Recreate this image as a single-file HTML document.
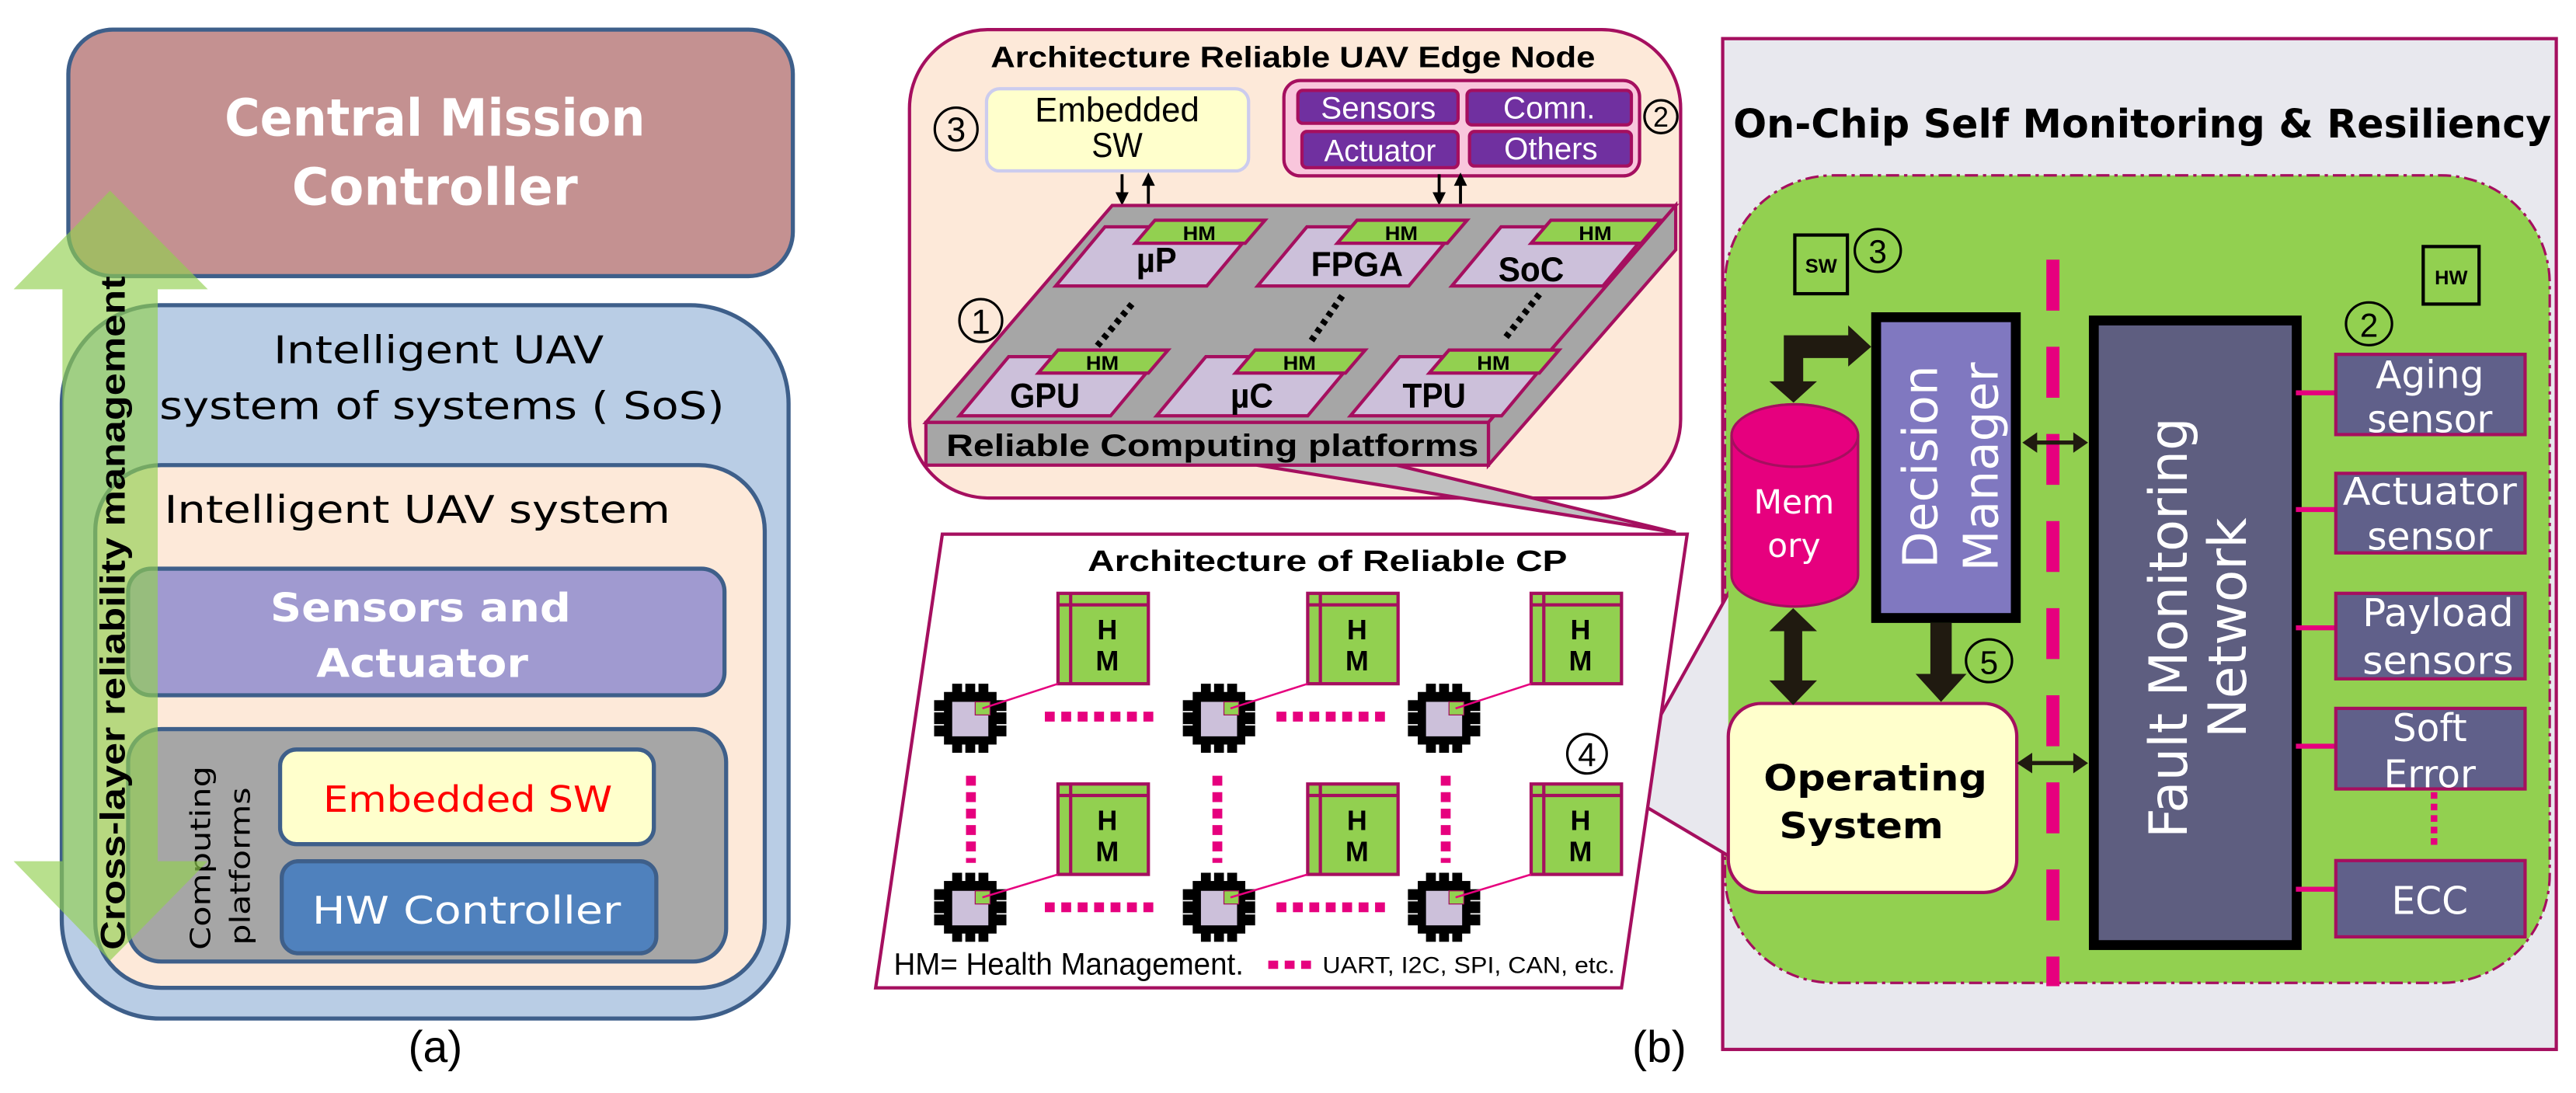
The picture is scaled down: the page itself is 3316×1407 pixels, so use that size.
<!DOCTYPE html>
<html><head><meta charset="utf-8"><style>
html,body{margin:0;padding:0;background:#fff}
svg{display:block}
text{font-family:"Liberation Sans",sans-serif}
.n{font-family:"Liberation Sans Narrow","Liberation Sans",sans-serif}
.v{font-family:"DejaVu Sans","Liberation Sans",sans-serif}
</style></head><body>
<svg width="3316" height="1407" viewBox="0 0 1568 665" preserveAspectRatio="none" xmlns="http://www.w3.org/2000/svg">
<rect width="1568" height="665" fill="#fff"/>

<!-- ===== Panel (a) ===== -->
<rect x="41.6" y="18" width="441" height="150" rx="27" fill="#c49191" stroke="#3e5f8a" stroke-width="2.5"/>
<text class="v" x="264.7" y="82.5" font-size="31" font-weight="bold" fill="#fff" text-anchor="middle" textLength="256" lengthAdjust="spacingAndGlyphs">Central Mission</text>
<text class="v" x="264.7" y="124.6" font-size="31" font-weight="bold" fill="#fff" text-anchor="middle" textLength="174" lengthAdjust="spacingAndGlyphs">Controller</text>

<rect x="37.6" y="185.7" width="442.4" height="434" rx="60" fill="#b9cde5" stroke="#3e5f8a" stroke-width="2.5"/>
<text class="v" x="267" y="221" font-size="23" fill="#000" text-anchor="middle" textLength="201" lengthAdjust="spacingAndGlyphs">Intelligent UAV</text>
<text class="v" x="269" y="255" font-size="23" fill="#000" text-anchor="middle" textLength="344" lengthAdjust="spacingAndGlyphs">system of systems ( SoS)</text>

<rect x="58" y="283" width="407.5" height="318" rx="40" fill="#fde9d9" stroke="#3e5f8a" stroke-width="2.5"/>
<text class="v" x="100" y="318" font-size="23" fill="#000" textLength="308" lengthAdjust="spacingAndGlyphs">Intelligent UAV system</text>

<rect x="78" y="346" width="363" height="77" rx="14" fill="#a09ad0" stroke="#3e5f8a" stroke-width="2.5"/>
<text class="v" x="256" y="378" font-size="24" font-weight="bold" fill="#fff" text-anchor="middle" textLength="183" lengthAdjust="spacingAndGlyphs">Sensors and</text>
<text class="v" x="257" y="412" font-size="24" font-weight="bold" fill="#fff" text-anchor="middle" textLength="129" lengthAdjust="spacingAndGlyphs">Actuator</text>

<rect x="78" y="443.6" width="364" height="141.4" rx="20" fill="#a6a6a6" stroke="#3e5f8a" stroke-width="2.5"/>
<text class="v" transform="translate(128,522) rotate(-90)" font-size="17" fill="#000" text-anchor="middle" textLength="112" lengthAdjust="spacingAndGlyphs">Computing</text>
<text class="v" transform="translate(152,527) rotate(-90)" font-size="17" fill="#000" text-anchor="middle" textLength="96" lengthAdjust="spacingAndGlyphs">platforms</text>

<rect x="170.5" y="456" width="227.5" height="57.6" rx="10" fill="#ffffcc" stroke="#3e5f8a" stroke-width="2.5"/>
<text class="v" x="284.7" y="494" font-size="22" fill="#ff0000" text-anchor="middle" textLength="176" lengthAdjust="spacingAndGlyphs">Embedded SW</text>
<rect x="171.5" y="524" width="228" height="56" rx="10" fill="#4f81bd" stroke="#3e5f8a" stroke-width="2.5"/>
<text class="v" x="284" y="562" font-size="23" fill="#fff" text-anchor="middle" textLength="188" lengthAdjust="spacingAndGlyphs">HW Controller</text>

<!-- green double arrow -->
<polygon points="67,116 126.5,176 96,176 96,524 126.5,524 67,584.5 8.3,524 38,524 38,176 8.3,176" fill="#92d050" fill-opacity="0.65"/>
<text transform="translate(76,373) rotate(-90)" font-size="21" font-weight="bold" fill="#000" text-anchor="middle" textLength="410" lengthAdjust="spacingAndGlyphs">Cross-layer reliability management</text>

<text x="265" y="646" font-size="27" fill="#000" text-anchor="middle">(a)</text>

<!-- ===== Panel (b) top box ===== -->
<rect x="553.6" y="18" width="469.4" height="285" rx="48" fill="#fde9d9" stroke="#a50f5f" stroke-width="2"/>
<text class="n" x="787" y="41" font-size="18" font-weight="bold" fill="#000" text-anchor="middle" textLength="368" lengthAdjust="spacingAndGlyphs">Architecture Reliable UAV Edge Node</text>

<rect x="600.5" y="54" width="159.5" height="50" rx="8" fill="#ffffcc" stroke="#ccccee" stroke-width="2"/>
<text class="n" x="680" y="74" font-size="21" fill="#000" text-anchor="middle" textLength="100" lengthAdjust="spacingAndGlyphs">Embedded</text>
<text class="n" x="680" y="95.5" font-size="21" fill="#000" text-anchor="middle" textLength="31" lengthAdjust="spacingAndGlyphs">SW</text>
<circle cx="582" cy="78.5" r="13" fill="none" stroke="#000" stroke-width="1.5"/>
<text class="n" x="582" y="86" font-size="21" fill="#000" text-anchor="middle">3</text>

<rect x="781.5" y="49" width="216.5" height="58" rx="10" fill="#f9c6dc" stroke="#a50f5f" stroke-width="2"/>
<g fill="#7030a0" stroke="#a50f5f" stroke-width="2">
<rect x="790" y="55" width="97.5" height="20" rx="3"/>
<rect x="893" y="55" width="100" height="21" rx="3"/>
<rect x="792.5" y="80" width="95" height="22" rx="3"/>
<rect x="894.5" y="80" width="98.5" height="21" rx="3"/>
</g>
<g font-size="19" fill="#fff" text-anchor="middle">
<text class="n" x="839" y="72" textLength="70" lengthAdjust="spacingAndGlyphs">Sensors</text>
<text class="n" x="943" y="72" textLength="56" lengthAdjust="spacingAndGlyphs">Comn.</text>
<text class="n" x="840" y="98" textLength="68" lengthAdjust="spacingAndGlyphs">Actuator</text>
<text class="n" x="944" y="97" textLength="57" lengthAdjust="spacingAndGlyphs">Others</text>
</g>
<circle cx="1011" cy="71" r="10" fill="none" stroke="#000" stroke-width="1.5"/>
<text class="n" x="1011" y="77" font-size="17" fill="#000" text-anchor="middle">2</text>

<!-- small arrows -->
<g stroke="#000" stroke-width="1.8" fill="#000">
<line x1="683" y1="106" x2="683" y2="118"/><polygon points="679,117 687,117 683,125" stroke="none"/>
<line x1="699" y1="112" x2="699" y2="124"/><polygon points="695,113 703,113 699,105" stroke="none"/>
<line x1="876" y1="106" x2="876" y2="118"/><polygon points="872,117 880,117 876,125" stroke="none"/>
<line x1="889" y1="112" x2="889" y2="124"/><polygon points="885,113 893,113 889,105" stroke="none"/>
</g>

<!-- callout from platform -->
<polygon points="765,283 850,283 1020,324" fill="#c0c0c0" stroke="#a50f5f" stroke-width="2"/>

<!-- platform -->
<polygon points="677,125 1020,125 906,257 563.6,257" fill="#a6a6a6" stroke="#a50f5f" stroke-width="2"/>
<polygon points="1020,125 1020,152 906,283 906,257" fill="#a6a6a6" stroke="#a50f5f" stroke-width="2"/>
<rect x="563.6" y="257" width="342.4" height="26" fill="#a6a6a6" stroke="#a50f5f" stroke-width="2"/>
<text class="n" x="576" y="277.5" font-size="19" font-weight="bold" fill="#000" textLength="324" lengthAdjust="spacingAndGlyphs">Reliable Computing platforms</text>

<!-- chips on platform -->
<g stroke="#a50f5f" stroke-width="2">
<polygon points="642.6,174 734.6,174 764.6,138 672.6,138" fill="#ccc0da"/>
<polygon points="691,148 758,148 770,134 703,134" fill="#92d050"/>
<polygon points="765.5,174 857.5,174 887.5,138 795.5,138" fill="#ccc0da"/>
<polygon points="814,148 881,148 893,134 826,134" fill="#92d050"/>
<polygon points="883.7,174 975.7,174 1005.7,138 913.7,138" fill="#ccc0da"/>
<polygon points="932,148 999,148 1011,134 944,134" fill="#92d050"/>
<polygon points="584,253 676,253 706,217 614,217" fill="#ccc0da"/>
<polygon points="632,227 699,227 711,213 644,213" fill="#92d050"/>
<polygon points="704,253 796,253 826,217 734,217" fill="#ccc0da"/>
<polygon points="752,227 819,227 831,213 764,213" fill="#92d050"/>
<polygon points="822,253 914,253 944,217 852,217" fill="#ccc0da"/>
<polygon points="870,227 937,227 949,213 882,213" fill="#92d050"/>
</g>
<g font-size="12" font-weight="bold" fill="#000" text-anchor="middle">
<text class="n" x="730" y="146" textLength="20" lengthAdjust="spacingAndGlyphs">HM</text><text class="n" x="853" y="146" textLength="20" lengthAdjust="spacingAndGlyphs">HM</text><text class="n" x="971" y="146" textLength="20" lengthAdjust="spacingAndGlyphs">HM</text>
<text class="n" x="671" y="225" textLength="20" lengthAdjust="spacingAndGlyphs">HM</text><text class="n" x="791" y="225" textLength="20" lengthAdjust="spacingAndGlyphs">HM</text><text class="n" x="909" y="225" textLength="20" lengthAdjust="spacingAndGlyphs">HM</text>
</g>
<g font-size="21" font-weight="bold" fill="#000" text-anchor="middle">
<text class="n" x="704" y="165.5" textLength="24.5" lengthAdjust="spacingAndGlyphs">µP</text><text class="n" x="826" y="168" textLength="56" lengthAdjust="spacingAndGlyphs">FPGA</text><text class="n" x="932" y="171" textLength="40" lengthAdjust="spacingAndGlyphs">SoC</text>
<text class="n" x="636" y="248" textLength="42.6" lengthAdjust="spacingAndGlyphs">GPU</text><text class="n" x="762" y="248" textLength="26" lengthAdjust="spacingAndGlyphs">µC</text><text class="n" x="873" y="248" textLength="38.5" lengthAdjust="spacingAndGlyphs">TPU</text>
</g>
<g stroke="#000" stroke-width="4" stroke-dasharray="3,3">
<line x1="689" y1="185" x2="667.5" y2="211"/>
<line x1="817" y1="180" x2="798" y2="207.6"/>
<line x1="937" y1="179" x2="916" y2="206"/>
</g>
<circle cx="597" cy="195" r="13" fill="none" stroke="#000" stroke-width="1.5"/>
<text class="n" x="597" y="203" font-size="21" fill="#000" text-anchor="middle">1</text>

<!-- ===== Right panel ===== -->
<rect x="1048.6" y="23.5" width="507.4" height="615" fill="#e8e8ee" stroke="#a50f5f" stroke-width="2"/>
<text class="v" x="1055" y="83.6" font-size="24" font-weight="bold" fill="#000" textLength="498" lengthAdjust="spacingAndGlyphs">On-Chip Self Monitoring &amp; Resiliency</text>
<rect x="1050" y="106.7" width="502" height="491.3" rx="66" fill="#92d050" stroke="#a50f5f" stroke-width="1.5" stroke-dasharray="8,3,2,3"/>

<!-- callout to right panel -->
<polygon points="987,478 1056,354 1056,523 987,482" fill="#e8e8ee" stroke="none"/>
<line x1="987" y1="478" x2="1056" y2="354" stroke="#a50f5f" stroke-width="2"/>
<line x1="987" y1="482" x2="1056" y2="523" stroke="#a50f5f" stroke-width="2"/>
<rect x="1052" y="340" width="8" height="200" fill="#92d050"/>

<!-- ===== Lower box ===== -->
<polygon points="573.6,325 1027,325 987,601 533,601" fill="#fff" stroke="#a50f5f" stroke-width="2"/>
<text class="n" x="808" y="347.5" font-size="18" font-weight="bold" fill="#000" text-anchor="middle" textLength="292" lengthAdjust="spacingAndGlyphs">Architecture of Reliable CP</text>

<g stroke="#e6007e" stroke-width="6" stroke-dasharray="6,4" fill="none">
<line x1="636" y1="436" x2="703" y2="436"/>
<line x1="777" y1="436" x2="843" y2="436"/>
<line x1="636" y1="552" x2="703" y2="552"/>
<line x1="777" y1="552" x2="843" y2="552"/>
<line x1="591" y1="472" x2="591" y2="525"/>
<line x1="741" y1="472" x2="741" y2="525"/>
<line x1="880" y1="472" x2="880" y2="525"/>
<line x1="772" y1="587" x2="798" y2="587" stroke-width="5"/>
</g>

<g stroke="#a50f5f" stroke-width="2" fill="#92d050">
<rect x="644" y="361" width="55" height="55"/><rect x="796" y="361" width="55" height="55"/><rect x="932" y="361" width="55" height="55"/>
<rect x="644" y="477" width="55" height="55"/><rect x="796" y="477" width="55" height="55"/><rect x="932" y="477" width="55" height="55"/>
</g>
<g stroke="#a50f5f" stroke-width="2">
<line x1="651.7" y1="361" x2="651.7" y2="416"/><line x1="644" y1="368" x2="699" y2="368"/>
<line x1="803.7" y1="361" x2="803.7" y2="416"/><line x1="796" y1="368" x2="851" y2="368"/>
<line x1="939.7" y1="361" x2="939.7" y2="416"/><line x1="932" y1="368" x2="987" y2="368"/>
<line x1="651.7" y1="477" x2="651.7" y2="532"/><line x1="644" y1="484" x2="699" y2="484"/>
<line x1="803.7" y1="477" x2="803.7" y2="532"/><line x1="796" y1="484" x2="851" y2="484"/>
<line x1="939.7" y1="477" x2="939.7" y2="532"/><line x1="932" y1="484" x2="987" y2="484"/>
</g>
<g font-size="17" font-weight="bold" fill="#000" text-anchor="middle">
<text x="674" y="389">H</text><text x="674" y="408">M</text>
<text x="826" y="389">H</text><text x="826" y="408">M</text>
<text x="962" y="389">H</text><text x="962" y="408">M</text>
<text x="674" y="505">H</text><text x="674" y="524">M</text>
<text x="826" y="505">H</text><text x="826" y="524">M</text>
<text x="962" y="505">H</text><text x="962" y="524">M</text>
</g>

<defs>
<g id="chip">
<rect x="-16" y="-16" width="32" height="32" fill="#000"/>
<rect x="-11" y="-21" width="6" height="6" fill="#000"/><rect x="-3" y="-21" width="6" height="6" fill="#000"/><rect x="5" y="-21" width="6" height="6" fill="#000"/>
<rect x="-11" y="15" width="6" height="6" fill="#000"/><rect x="-3" y="15" width="6" height="6" fill="#000"/><rect x="5" y="15" width="6" height="6" fill="#000"/>
<rect x="-22" y="-11" width="7" height="22" fill="#000"/><rect x="15" y="-11" width="7" height="22" fill="#000"/>
<line x1="-22" y1="-4" x2="-16" y2="-4" stroke="#fff" stroke-width="0.8"/><line x1="-22" y1="4" x2="-16" y2="4" stroke="#fff" stroke-width="0.8"/>
<line x1="16" y1="-4" x2="22" y2="-4" stroke="#fff" stroke-width="0.8"/><line x1="16" y1="4" x2="22" y2="4" stroke="#fff" stroke-width="0.8"/>
<rect x="-11" y="-10" width="22" height="21" fill="#ccc0da"/>
<rect x="3" y="-10" width="9" height="8" fill="#92d050" stroke="#a50f5f" stroke-width="0.6"/>
</g>
</defs>
<use href="#chip" x="590.6" y="437"/><use href="#chip" x="742" y="437"/><use href="#chip" x="879" y="437"/>
<use href="#chip" x="590.6" y="552"/><use href="#chip" x="742" y="552"/><use href="#chip" x="879" y="552"/>
<g stroke="#e6007e" stroke-width="1.2">
<line x1="598" y1="431" x2="644" y2="416"/><line x1="749" y1="431" x2="796" y2="416"/><line x1="886" y1="431" x2="932" y2="416"/>
<line x1="598" y1="546" x2="644" y2="532"/><line x1="749" y1="546" x2="796" y2="532"/><line x1="886" y1="546" x2="932" y2="532"/>
</g>

<text class="n" x="544" y="593" font-size="19" fill="#000" textLength="213" lengthAdjust="spacingAndGlyphs">HM= Health Management.</text>
<text class="n" x="805" y="592" font-size="14" fill="#000" textLength="178" lengthAdjust="spacingAndGlyphs">UART, I2C, SPI, CAN, etc.</text>
<circle cx="966" cy="458.6" r="12" fill="#fff" stroke="#000" stroke-width="1.5"/>
<text class="n" x="966" y="466" font-size="20" fill="#000" text-anchor="middle">4</text>

<text x="1010" y="646" font-size="27" fill="#000" text-anchor="middle">(b)</text>

<!-- right panel content -->
<rect x="1092.5" y="143" width="32" height="35.7" fill="none" stroke="#000" stroke-width="2"/>
<text x="1108.5" y="166" font-size="12" font-weight="bold" fill="#000" text-anchor="middle">SW</text>
<ellipse cx="1143" cy="152.4" rx="14" ry="13" fill="none" stroke="#000" stroke-width="1.5"/>
<text class="n" x="1143" y="160" font-size="20" fill="#000" text-anchor="middle">3</text>
<rect x="1475" y="150" width="34" height="35" fill="none" stroke="#000" stroke-width="2"/>
<text x="1492" y="173" font-size="12" font-weight="bold" fill="#000" text-anchor="middle">HW</text>
<ellipse cx="1442" cy="197" rx="14" ry="13" fill="none" stroke="#000" stroke-width="1.5"/>
<text class="n" x="1442" y="205" font-size="20" fill="#000" text-anchor="middle">2</text>

<line x1="1249.6" y1="158" x2="1249.6" y2="600" stroke="#e6007e" stroke-width="8" stroke-dasharray="31,22"/>

<rect x="1142" y="193" width="85" height="183" fill="#8078c0" stroke="#000" stroke-width="6"/>
<text class="v" transform="translate(1179,284) rotate(-90)" font-size="29" fill="#fff" text-anchor="middle">Decision</text>
<text class="v" transform="translate(1216,284) rotate(-90)" font-size="29" fill="#fff" text-anchor="middle">Manager</text>

<rect x="1274.5" y="195" width="123.5" height="380" fill="#5e5e80" stroke="#000" stroke-width="6"/>
<text class="v" transform="translate(1331,382) rotate(-90)" font-size="32" fill="#fff" text-anchor="middle" textLength="256" lengthAdjust="spacingAndGlyphs">Fault Monitoring</text>
<text class="v" transform="translate(1367,382) rotate(-90)" font-size="32" fill="#fff" text-anchor="middle" textLength="134" lengthAdjust="spacingAndGlyphs">Network</text>

<g stroke="#e6007e" stroke-width="3">
<line x1="1397.5" y1="239" x2="1421.8" y2="239"/><line x1="1397.5" y1="310" x2="1421.8" y2="310"/>
<line x1="1397.5" y1="382" x2="1421.8" y2="382"/><line x1="1397.5" y1="454" x2="1421.8" y2="454"/>
<line x1="1397.5" y1="541" x2="1421.8" y2="541"/>
</g>
<line x1="1481.6" y1="482" x2="1481.6" y2="516" stroke="#e6007e" stroke-width="4" stroke-dasharray="4,3"/>
<g fill="#60608a" stroke="#a50f5f" stroke-width="2">
<rect x="1421.8" y="215.6" width="115.2" height="48.8"/>
<rect x="1421.8" y="288" width="115.2" height="48.4"/>
<rect x="1421.8" y="361" width="115.2" height="52"/>
<rect x="1421.8" y="431" width="115.2" height="49"/>
<rect x="1421.8" y="523.6" width="115.2" height="46.4"/>
</g>
<g font-size="23" fill="#fff" text-anchor="middle">
<text class="v" x="1479" y="236">Aging</text><text class="v" x="1479" y="263">sensor</text>
<text class="v" x="1479" y="307" textLength="106" lengthAdjust="spacingAndGlyphs">Actuator</text><text class="v" x="1479" y="334.5">sensor</text>
<text class="v" x="1484" y="381" textLength="92" lengthAdjust="spacingAndGlyphs">Payload</text><text class="v" x="1484" y="410" textLength="92" lengthAdjust="spacingAndGlyphs">sensors</text>
<text class="v" x="1479" y="451">Soft</text><text class="v" x="1479" y="479">Error</text>
<text class="v" x="1479" y="556">ECC</text>
</g>

<path d="M1054,265 L1054,350 A38.5,19 0 0 0 1131,350 L1131,265 A38.5,19 0 0 0 1054,265 Z" fill="#e6007e" stroke="#a50f5f" stroke-width="1.5"/>
<ellipse cx="1092.5" cy="265" rx="38.5" ry="19" fill="#e6007e" stroke="#a50f5f" stroke-width="1.5"/>
<text class="v" x="1092" y="312.5" font-size="20" fill="#fff" text-anchor="middle">Mem</text>
<text class="v" x="1092" y="339" font-size="20" fill="#fff" text-anchor="middle">ory</text>

<rect x="1052" y="428" width="175.6" height="115" rx="20" fill="#ffffcc" stroke="#a50f5f" stroke-width="2"/>
<text class="v" x="1141.5" y="481" font-size="22" font-weight="bold" fill="#000" text-anchor="middle" textLength="136" lengthAdjust="spacingAndGlyphs">Operating</text>
<text class="v" x="1133" y="510" font-size="22" font-weight="bold" fill="#000" text-anchor="middle" textLength="100" lengthAdjust="spacingAndGlyphs">System</text>

<g fill="#201a10">
<path d="M1085.8,232 L1085.8,204 L1125,204 L1125,198 L1139,211 L1125,223 L1125,217.8 L1097.6,217.8 L1097.6,232 L1106,232 L1091.7,245 L1077,232 Z"/>
<path d="M1086,384 L1077,384 L1091.5,370 L1106,384 L1097,384 L1097,414 L1106,414 L1091.5,429 L1077,414 L1086,414 Z"/>
<path d="M1175,379 L1188,379 L1188,410 L1197,410 L1181.5,427 L1166,410 L1175,410 Z"/>
<rect x="1237" y="268" width="28" height="2.5"/>
<polygon points="1231,269.3 1240,263 1240,275.5"/><polygon points="1271,269.3 1262,263 1262,275.5"/>
<rect x="1234" y="463" width="31" height="2.5"/>
<polygon points="1227.6,464.3 1237,458 1237,470.5"/><polygon points="1271,464.3 1262,458 1262,470.5"/>
</g>
<ellipse cx="1210.7" cy="402" rx="14" ry="13" fill="none" stroke="#000" stroke-width="1.5"/>
<text class="n" x="1210.7" y="410" font-size="20" fill="#000" text-anchor="middle">5</text>
</svg>
</body></html>
